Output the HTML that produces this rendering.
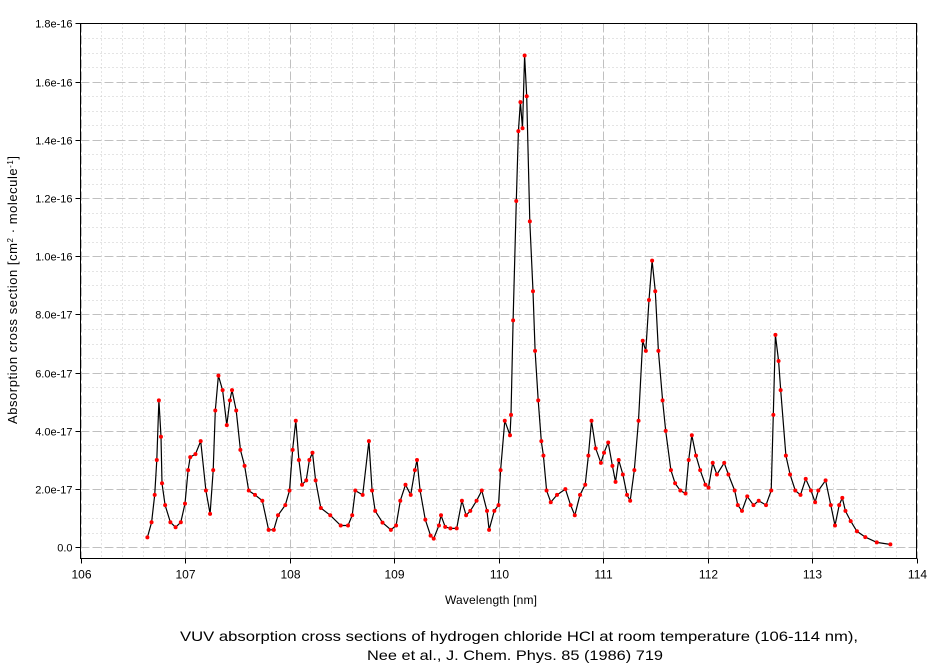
<!DOCTYPE html>
<html><head><meta charset="utf-8"><style>
body{margin:0;background:#fff;}
svg{display:block;font-family:"Liberation Sans",Arial,sans-serif;}
</style></head><body>
<svg id="chart" width="939" height="665">
<g id="grid"></g>
<g id="axes"></g>
<g id="series"></g>
<text x="491" y="604" text-anchor="middle" font-size="12" textLength="92">Wavelength [nm]</text>
<text transform="translate(17,290) rotate(-90)" text-anchor="middle" font-size="13" textLength="268">Absorption cross section [cm<tspan baseline-shift="super" font-size="8">2</tspan> · molecule<tspan baseline-shift="super" font-size="8">-1</tspan>]</text>
<text x="519" y="641" text-anchor="middle" font-size="14" textLength="678" lengthAdjust="spacingAndGlyphs">VUV absorption cross sections of hydrogen chloride HCl at room temperature (106-114 nm),</text>
<text x="515" y="660" text-anchor="middle" font-size="14" textLength="296" lengthAdjust="spacingAndGlyphs">Nee et al., J. Chem. Phys. 85 (1986) 719</text>
</svg>
<script>
const xTicks=[106,107,108,109,110,111,112,113,114];
const yTicks=[0,2,4,6,8,10,12,14,16,18];
const yTickLabels=["0.0","2.0e-17","4.0e-17","6.0e-17","8.0e-17","1.0e-16","1.2e-16","1.4e-16","1.6e-16","1.8e-16"];
const wavelengths=[106.64,106.68,106.71,106.73,106.75,106.77,106.78,106.81,106.86,106.91,106.96,107.00,107.03,107.05,107.10,107.15,107.20,107.24,107.27,107.29,107.32,107.36,107.40,107.43,107.45,107.49,107.53,107.57,107.61,107.67,107.74,107.80,107.85,107.89,107.96,108.00,108.03,108.06,108.09,108.12,108.16,108.19,108.22,108.25,108.30,108.39,108.49,108.56,108.60,108.63,108.70,108.76,108.79,108.82,108.89,108.97,109.02,109.06,109.11,109.16,109.20,109.22,109.25,109.30,109.35,109.38,109.43,109.45,109.49,109.54,109.60,109.65,109.69,109.73,109.79,109.84,109.89,109.91,109.96,110.00,110.02,110.06,110.11,110.12,110.14,110.17,110.19,110.21,110.23,110.25,110.27,110.30,110.33,110.35,110.38,110.41,110.43,110.46,110.50,110.56,110.64,110.69,110.73,110.78,110.83,110.86,110.89,110.93,110.98,111.01,111.05,111.09,111.12,111.15,111.19,111.23,111.26,111.30,111.34,111.38,111.41,111.44,111.47,111.50,111.53,111.57,111.60,111.65,111.69,111.74,111.79,111.82,111.85,111.89,111.93,111.98,112.01,112.05,112.09,112.16,112.20,112.26,112.29,112.33,112.38,112.44,112.49,112.56,112.61,112.63,112.65,112.68,112.70,112.75,112.79,112.84,112.89,112.94,112.99,113.03,113.06,113.13,113.18,113.22,113.26,113.29,113.32,113.37,113.43,113.51,113.62,113.75];
const crossSection=[0.34,0.86,1.8,3.0,5.05,3.8,2.2,1.45,0.86,0.69,0.86,1.5,2.65,3.1,3.2,3.65,1.95,1.15,2.65,4.7,5.9,5.4,4.2,5.05,5.4,4.7,3.35,2.8,1.95,1.8,1.6,0.6,0.6,1.1,1.45,1.95,3.35,4.35,3.0,2.15,2.3,3.0,3.25,2.3,1.35,1.1,0.75,0.75,1.1,1.95,1.8,3.65,1.95,1.25,0.85,0.6,0.75,1.6,2.15,1.8,2.65,3.0,1.95,0.95,0.4,0.3,0.75,1.1,0.7,0.65,0.65,1.6,1.1,1.25,1.6,1.95,1.25,0.6,1.25,1.45,2.65,4.35,3.85,4.55,7.8,11.9,14.3,15.3,14.4,16.9,15.5,11.2,8.8,6.75,5.05,3.65,3.15,1.95,1.55,1.8,2.0,1.45,1.1,1.8,2.15,3.15,4.35,3.4,2.9,3.25,3.6,2.8,2.25,3.0,2.5,1.8,1.6,2.65,4.35,7.1,6.75,8.5,9.85,8.8,6.75,5.05,4.0,2.65,2.2,1.95,1.85,3.0,3.85,3.15,2.65,2.15,2.05,2.9,2.5,2.9,2.5,1.95,1.45,1.25,1.75,1.45,1.6,1.45,1.95,4.55,7.3,6.4,5.4,3.15,2.5,1.95,1.8,2.35,1.95,1.55,1.95,2.3,1.45,0.75,1.45,1.7,1.25,0.9,0.55,0.35,0.17,0.1];
const NS="http://www.w3.org/2000/svg";
const L=80.5,R=916.5,T=23.5,B=558.5,Y0=547.3,YS=29.1;
const xMin=106,xMax=114;
function sx(v){return L+(v-xMin)/(xMax-xMin)*(R-L);}
function sy(v){return Y0-v*YS;}
function mk(tag,attrs,parent){const e=document.createElementNS(NS,tag);for(const k in attrs)e.setAttribute(k,attrs[k]);parent.appendChild(e);return e;}
const grid=document.getElementById('grid'),axes=document.getElementById('axes'),series=document.getElementById('series');
for(let v=xMin;v<=xMax+1e-9;v+=0.2){const x=Math.round(sx(v))+0.5;
 const g=mk('line',{x1:x,x2:x,y1:T,y2:B,stroke:'#c8c8c8','stroke-dasharray':'1,3'},grid);
 
 }
for(let v=0;v<=18+1e-9;v+=0.5){const y=Math.round(sy(v))+0.5;if(y<T)continue;
 const g=mk('line',{x1:L,x2:R,y1:y,y2:y,stroke:'#c8c8c8','stroke-dasharray':'1,3'},grid);
 
 }
xTicks.forEach(v=>{const x=Math.round(sx(v))+0.5;
 const g=mk('line',{x1:x,x2:x,y1:T,y2:B,stroke:'#c0c0c0','stroke-dasharray':'8,4'},grid);
 
 
 const t=mk('line',{x1:x,x2:x,y1:B,y2:B+5,stroke:'#000'},axes);
 
 
 const lb=mk('text',{x:x,y:B+20,'text-anchor':'middle','font-size':'12'},axes);lb.textContent=v;
 
 });
yTicks.forEach((v,i)=>{const y=Math.round(sy(v))+0.5;
 const g=mk('line',{x1:L,x2:R,y1:y,y2:y,stroke:'#c0c0c0','stroke-dasharray':'8,4'},grid);
 
 
 const t=mk('line',{x1:L-5,x2:L,y1:y,y2:y,stroke:'#000'},axes);
 
 
 const lb=mk('text',{x:L-8,y:y+4,'text-anchor':'end','font-size':'11'},axes);lb.textContent=yTickLabels[i];
 
 });
const fr=mk('rect',{x:L,y:T,width:R-L,height:B-T,fill:'none',stroke:'#000','stroke-width':'1'},axes);


const pts=wavelengths.map((w,i)=>sx(w).toFixed(1)+','+sy(crossSection[i]).toFixed(1)).join(' ');
const line=mk('polyline',{points:pts,fill:'none',stroke:'#000','stroke-width':'1.2'},series);


wavelengths.forEach((w,i)=>{const c=mk('circle',{cx:sx(w),cy:sy(crossSection[i]),r:2,fill:'#ff0000'},series);
 
 });
</script>
</body></html>
